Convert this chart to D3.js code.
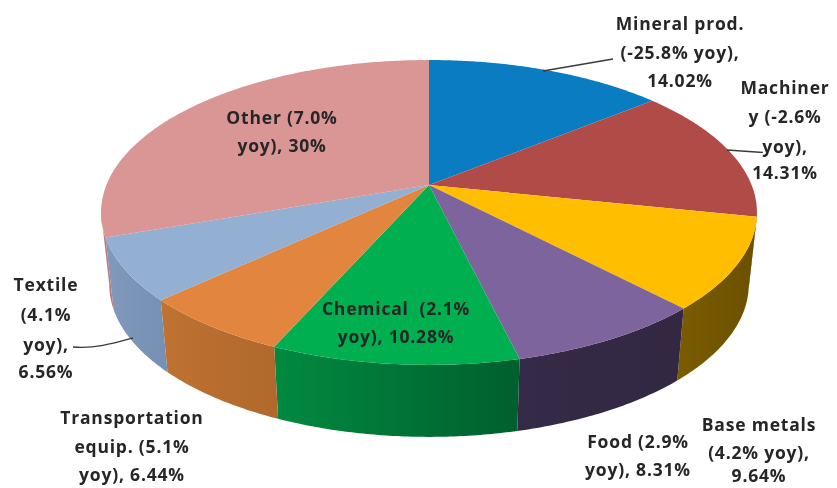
<!DOCTYPE html>
<html>
<head>
<meta charset="utf-8">
<script src="https://cdn.jsdelivr.net/npm/d3@7"></script>
<style>
  html, body { margin: 0; padding: 0; background: #fff; }
  text { font-family: "Open Sans", Lato, sans-serif; font-weight: 700; font-size: 17.5px; letter-spacing: 0.8px; fill: #262626; }
</style>
</head>
<body>
<div id="chart"></div>
<script>
// values, "Other" is printed rounded to 30% but fills the rest of the disc
const categories = ["Mineral prod.", "Machinery", "Base metals", "Food", "Chemical", "Transportation equip.", "Textile", "Other"];
const shares = [14.02, 14.31, 9.64, 8.31, 10.28, 6.44, 6.56, 30.44];
const labelLines = [
  ["Mineral prod.", "(-25.8% yoy),", "14.02%"],
  ["Machiner", "y (-2.6%", "yoy),", "14.31%"],
  ["Base metals", "(4.2% yoy),", "9.64%"],
  ["Food (2.9%", "yoy), 8.31%"],
  ["Chemical\u00a0\u00a0(2.1%", "yoy), 10.28%"],
  ["Transportation", "equip. (5.1%", "yoy), 6.44%"],
  ["Textile", "(4.1%", "yoy),", "6.56%"],
  ["Other (7.0%", "yoy), 30%"]
];

// colours of the top face and the two ends of the side gradient
const topColors = ["#0a7cc2", "#b04b48", "#ffbe00", "#7e649c", "#00b050", "#e2853e", "#93afd2", "#d99694"];
const sideLeft = ["#0a5c90", "#8a3a38", "#7a5c00", "#352a47", "#008a40", "#bf7232", "#8099bc", "#b87c7a"];
const sideRight = ["#0a5c90", "#8a3a38", "#6c5000", "#322842", "#005f2e", "#b0682c", "#7590b2", "#b87c7a"];

const width = 837;
const height = 488;

// the tilted disc, drawn with a small perspective so the slices meet above the middle of the ellipse
const cx = 429;
const cy = 185;
const rx = 322.6;
const ry = 147.5;
const persp = 0.18;
const depth = 72;
const bottomShrink = 0.975;

function project(angle, shrink = 1, shift = 0) {
  const s = -Math.cos(angle);
  const w = 1 - persp * s;
  return [cx + shrink * rx * Math.sin(angle) / w, cy + shift + ry * s / w];
}

function arcAngles(a0, a1) {
  const n = Math.max(2, Math.ceil((a1 - a0) / 0.01));
  return d3.range(n + 1).map(i => a0 + (a1 - a0) * i / n);
}

const svg = d3.select("#chart")
  .append("svg")
  .attr("width", width)
  .attr("height", height)
  .attr("viewBox", [0, 0, width, height]);

const defs = svg.append("defs");

// the reference is a soft screenshot, so the text gets a slight blur
defs.append("filter")
  .attr("id", "soft")
  .append("feGaussianBlur")
  .attr("stdDeviation", 0.45);

const pie = d3.pie().sort(null).value(d => d.share);
const slices = pie(categories.map((name, i) => ({ name, share: shares[i], i })));

const line = d3.line();

// visible part of the side wall, between the two tangent points of the ellipse
const frontStart = Math.acos(-persp);
const frontEnd = 2 * Math.PI - frontStart;

const sides = svg.append("g");
slices.forEach(d => {
  const a0 = Math.max(d.startAngle, frontStart);
  const a1 = Math.min(d.endAngle, frontEnd);
  if (a1 <= a0) return;

  const grad = defs.append("linearGradient").attr("id", "side" + d.data.i);
  grad.append("stop").attr("offset", "0%").attr("stop-color", sideLeft[d.data.i]);
  grad.append("stop").attr("offset", "100%").attr("stop-color", sideRight[d.data.i]);

  const angles = arcAngles(a0, a1);
  const upper = angles.map(a => project(a));
  const lower = angles.slice().reverse().map(a => project(a, bottomShrink, depth));
  sides.append("path")
    .attr("d", line(upper.concat(lower)) + "Z")
    .attr("fill", `url(#side${d.data.i})`);
});

// top face
svg.append("g")
  .selectAll("path")
  .data(slices)
  .join("path")
  .attr("fill", d => topColors[d.data.i])
  .attr("d", d => line([[cx, cy]].concat(arcAngles(d.startAngle, d.endAngle).map(a => project(a)))) + "Z");

// leader lines
const leaders = [
  "M543,71L613,59",
  "M727,150L763,152.5",
  "M726,335L726,410",
  "M73,347C95,349 115,343 133,338"
];
svg.append("g")
  .selectAll("path")
  .data(leaders)
  .join("path")
  .attr("d", d => d)
  .attr("fill", "none")
  .attr("stroke", "#3a3a3a")
  .attr("stroke-width", 1.3)
  .attr("filter", "url(#soft)");

// centre of each label block and the baseline of each of its lines
const labelX = [680, 785, 759, 638, 396, 132, 46, 282];
const labelY = [
  [30, 59, 87],
  [94, 123, 153, 179],
  [431, 459, 482],
  [448, 476],
  [315, 343],
  [424, 453, 481],
  [291, 321, 351, 378],
  [124, 152]
];

const labels = svg.append("g").attr("filter", "url(#soft)");
labelLines.forEach((lines, i) => {
  labels.selectAll(null)
    .data(lines)
    .join("text")
    .attr("x", labelX[i])
    .attr("y", (d, j) => labelY[i][j])
    .attr("text-anchor", "middle")
    .text(d => d);
});
</script>
</body>
</html>
